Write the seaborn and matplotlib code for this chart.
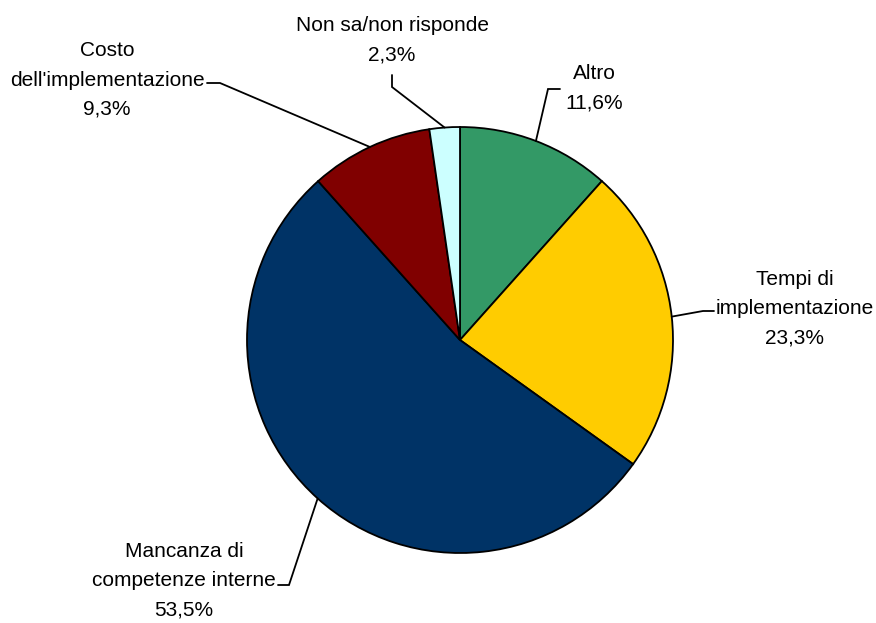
import matplotlib
matplotlib.use("Agg")
import matplotlib.pyplot as plt
import seaborn as sns
import numpy as np

categories = ["Altro", "Tempi di\nimplementazione", "Mancanza di\ncompetenze interne",
              "Costo\ndell'implementazione", "Non sa/non risponde"]
values = [11.6, 23.3, 53.5, 9.3, 2.3]
pct_labels = ["11,6%", "23,3%", "53,5%", "9,3%", "2,3%"]
colors = ["#339966", "#FFCC00", "#003366", "#800000", "#CCFFFF"]

sns.set_theme(style="white")
plt.rcParams['font.family'] = ['Liberation Sans', 'DejaVu Sans']

W, H = 876, 623
fig = plt.figure(figsize=(W / 100, H / 100), dpi=100)
ax = fig.add_axes([0, 0, 1, 1])

cx, cy, R = 460, H - 340, 213
pal = sns.color_palette(colors)
wedges, _ = ax.pie(values, colors=pal, startangle=90, counterclock=False,
                   center=(cx, cy), radius=R, frame=True,
                   wedgeprops=dict(edgecolor='black', linewidth=1.3))
ax.set_xlim(0, W)
ax.set_ylim(0, H)
ax.set_aspect('equal')
ax.axis('off')

# label layout: text centre (px, from top), elbow point, end point
text_pos = [(594, 88), (795, 309), (184, 581), (107, 80), (392, 40)]
elbow = [(548, 89), (703, 311), (289, 585), (220, 83), (392, 87)]
endp = [(560, 89), (714, 311), (278, 585), (207, 83), (392, 75)]

for w, cat, pct, tp, el, ep in zip(wedges, categories, pct_labels, text_pos, elbow, endp):
    ang = np.deg2rad((w.theta1 + w.theta2) / 2)
    sx, sy = cx + R * np.cos(ang), cy + R * np.sin(ang)
    ax.plot([sx, el[0], ep[0]], [sy, H - el[1], H - ep[1]], color='black', lw=1.3,
            solid_joinstyle='miter', zorder=1)
    ax.text(tp[0], H - tp[1], f"{cat}\n{pct}", ha='center', va='center',
            fontsize=15, linespacing=1.68, color='black')

fig.savefig("out.png", dpi=100, facecolor='white')
